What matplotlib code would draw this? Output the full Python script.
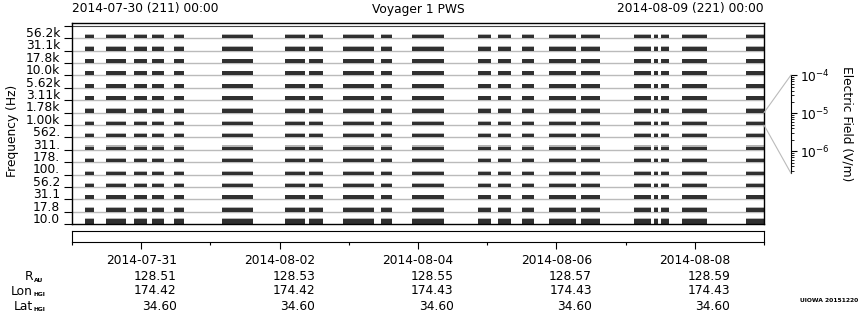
import datetime as dt
import matplotlib
matplotlib.use("Agg")
import matplotlib.pyplot as plt
import matplotlib.dates as mdates
from matplotlib.patches import ConnectionPatch
from matplotlib.ticker import FixedLocator, LogLocator, NullFormatter

# time range of the plot
t0 = dt.datetime(2014, 7, 30)
t1 = dt.datetime(2014, 8, 9)

# channels, bottom to top
freq_labels = ["10.0", "17.8", "31.1", "56.2", "100.", "178.", "311.", "562.",
               "1.00k", "1.78k", "3.11k", "5.62k", "10.0k", "17.8k", "31.1k", "56.2k"]

# data coverage (days after 2014-07-30 00:00)
seg_start = [0.19, 0.49, 0.90, 1.16, 1.48, 2.17, 3.08, 3.42, 3.92, 4.47, 4.91,
             5.86, 6.15, 6.51, 6.90, 7.35, 8.12, 8.41, 8.51, 8.81, 9.74]
seg_end = [0.32, 0.78, 1.09, 1.33, 1.62, 2.61, 3.36, 3.63, 4.37, 4.63, 5.37,
           6.05, 6.35, 6.67, 7.29, 7.63, 8.37, 8.47, 8.63, 9.18, 10.0]

# average and peak level of each channel (fraction of one channel row)
level_avg = [0.40, 0.30, 0.35, 0.25, 0.24, 0.27, 0.27, 0.27,
             0.27, 0.32, 0.32, 0.32, 0.32, 0.32, 0.32, 0.30]
level_peak = [0.48, 0.36, 0.38, 0.33, 0.32, 0.35, 0.40, 0.35,
              0.32, 0.34, 0.34, 0.34, 0.34, 0.34, 0.34, 0.37]

# bottom axis: labelled days and ephemeris
tick_days = ["2014-07-31", "2014-08-02", "2014-08-04", "2014-08-06", "2014-08-08"]
r_au = ["128.51", "128.53", "128.55", "128.57", "128.59"]
lon_hgi = ["174.42", "174.42", "174.43", "174.43", "174.43"]
lat_hgi = ["34.60", "34.60", "34.60", "34.60", "34.60"]
minor_days = ["2014-07-30", "2014-08-01", "2014-08-03", "2014-08-05",
              "2014-08-07", "2014-08-09"]

FS = 8.8
W, H = 860, 320
plt.rcParams["font.family"] = "DejaVu Sans"

fig = plt.figure(figsize=(W / 100, H / 100), dpi=100)


def px_axes(left, top, right, bottom):
    return fig.add_axes([left / W, 1 - bottom / H, (right - left) / W, (bottom - top) / H])


x0 = mdates.date2num(t0)
x1 = mdates.date2num(t1)

# main panel
ax = px_axes(72, 23, 764, 224.3)
ranges = [(x0 + s, e - s) for s, e in zip(seg_start, seg_end)]
for ch in range(len(freq_labels)):
    if ch > 0:
        ax.axhline(ch, color="#bbbbbb", lw=1, zorder=0)
    ax.broken_barh(ranges, (ch, level_peak[ch]), facecolors="#b4b4b4", zorder=1)
    ax.broken_barh(ranges, (ch, level_avg[ch]), facecolors="#303030", zorder=2)
ax.axhline(16, color="#444444", lw=0.8)
ax.set_xlim(x0, x1)
ax.set_ylim(0, 16.23)
ax.set_xticks([])
ax.yaxis.set_major_locator(FixedLocator(range(0, 17)))
ax.set_yticks([c + 0.5 for c in range(16)], freq_labels, minor=True)
ax.tick_params(axis="y", which="major", length=5.5, width=0.8, labelleft=False)
ax.tick_params(axis="y", which="minor", length=0, pad=8.5, labelsize=FS)
for sp in ax.spines.values():
    sp.set_linewidth(1)
fig.text(12.5 / W, 1 - 131 / H, "Frequency (Hz)", rotation=90, ha="center",
         va="center", fontsize=FS)

# empty strip with the time axis
axb = px_axes(72, 231, 764, 242)
axb.set_xlim(x0, x1)
axb.set_yticks([])
major = [mdates.date2num(dt.datetime.strptime(d, "%Y-%m-%d")) for d in tick_days]
minor = [mdates.date2num(dt.datetime.strptime(d, "%Y-%m-%d")) for d in minor_days]
labels = [f"{d}\n{r}\n{lo}\n{la}" for d, r, lo, la in zip(tick_days, r_au, lon_hgi, lat_hgi)]
axb.set_xticks(major, labels)
axb.set_xticks(minor, minor=True)
axb.tick_params(axis="x", which="major", length=5, width=0.8, pad=4, labelsize=FS)
axb.tick_params(axis="x", which="minor", length=2.5, width=0.8)
for lab in axb.get_xticklabels():
    lab.set_multialignment("right")
    lab.set_linespacing(1.2)

for name, sub, y in [("R", "AU", 277), ("Lon", "HGI", 291.5), ("Lat", "HGI", 306)]:
    fig.text(33 / W, 1 - y / H, name, ha="right", va="center", fontsize=FS)
    fig.text(33.5 / W, 1 - (y + 3.5) / H, sub, ha="left", va="center",
             fontsize=4.3, fontweight="bold")

# colour scale of the 1.00k channel
cax = px_axes(791, 75, 791.3, 173.3)
cax.set_yscale("log")
cax.set_ylim(10 ** -6.58, 10 ** -3.987)
cax.set_xticks([])
for side in ["top", "bottom", "right"]:
    cax.spines[side].set_visible(False)
cax.spines["left"].set_linewidth(0.8)
cax.yaxis.tick_right()
cax.yaxis.set_major_locator(LogLocator(base=10, numticks=10))
cax.yaxis.set_minor_locator(LogLocator(base=10, subs=range(2, 10), numticks=10))
cax.yaxis.set_minor_formatter(NullFormatter())
cax.tick_params(axis="y", which="major", direction="out", length=4, width=0.8,
                pad=2.5, labelsize=FS)
cax.tick_params(axis="y", which="minor", direction="out", length=2, width=0.6)
cax.yaxis.set_label_position("right")
cax.set_ylabel("Electric Field (V/m)", rotation=270, fontsize=FS, labelpad=17)

for ya, yb in [(9, 1), (8, 0)]:
    con = ConnectionPatch(xyA=(1, ya), coordsA=ax.get_yaxis_transform(),
                          xyB=(0, yb), coordsB=cax.transAxes,
                          color="#bbbbbb", lw=0.8)
    fig.add_artist(con)

# header
fig.text(72 / W, 1 - 8.5 / H, "2014-07-30 (211) 00:00", ha="left", va="center", fontsize=FS)
fig.text(418 / W, 1 - 10 / H, "Voyager 1 PWS", ha="center", va="center", fontsize=FS)
fig.text(764 / W, 1 - 8.5 / H, "2014-08-09 (221) 00:00", ha="right", va="center", fontsize=FS)
fig.text(858 / W, 1 - 301 / H, "UIOWA 20151220", ha="right", va="center",
         fontsize=4.3, fontweight="bold")

fig.savefig("out.png", dpi=100)
